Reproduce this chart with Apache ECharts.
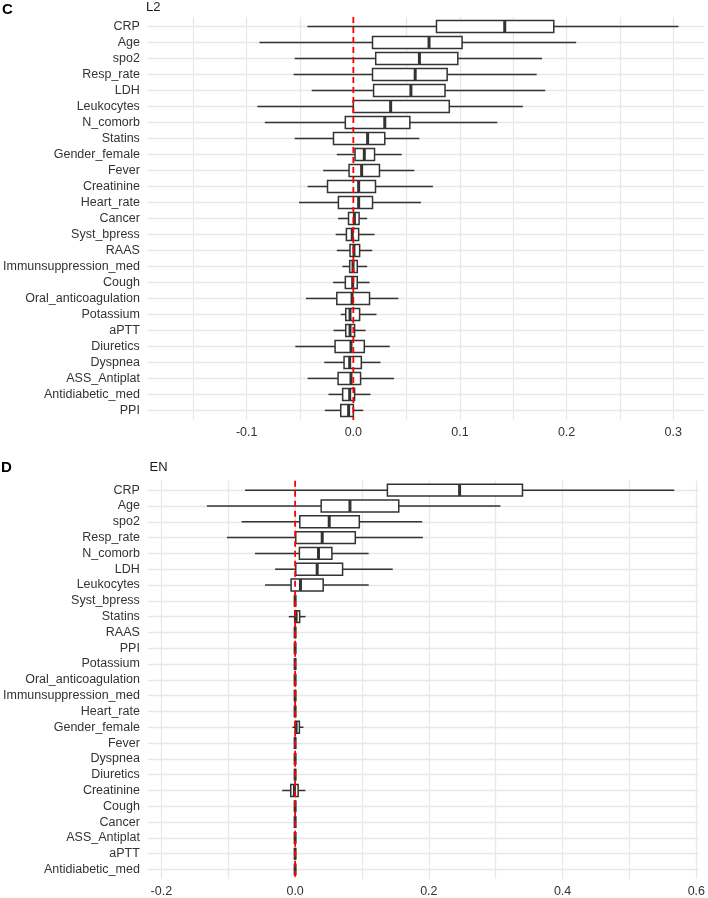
<!DOCTYPE html>
<html><head><meta charset="utf-8">
<script src="https://cdn.jsdelivr.net/npm/echarts@6/dist/echarts.min.js"></script>
<style>html,body{margin:0;padding:0;background:#fff}#c{width:708px;height:898px}</style>
</head><body><div id="c"></div>
<script>
// ---------- Panel C : L2 ----------
const catsL2 = ['CRP','Age','spo2','Resp_rate','LDH','Leukocytes','N_comorb','Statins','Gender_female','Fever','Creatinine','Heart_rate','Cancer','Syst_bpress','RAAS','Immunsuppression_med','Cough','Oral_anticoagulation','Potassium','aPTT','Diuretics','Dyspnea','ASS_Antiplat','Antidiabetic_med','PPI'];
const l2Min = [-0.043,-0.088,-0.055,-0.056,-0.039,-0.090,-0.083,-0.055,-0.0155,-0.0283,-0.0429,-0.051,-0.0143,-0.0165,-0.0155,-0.0103,-0.019,-0.0444,-0.0118,-0.0186,-0.0544,-0.0273,-0.0429,-0.0233,-0.0267];
const l2Q1  = [0.078,0.018,0.021,0.018,0.019,0.000,-0.0075,-0.0186,0.0016,-0.004,-0.0242,-0.014,-0.0045,-0.0065,-0.0031,-0.0034,-0.0075,-0.0155,-0.0071,-0.0071,-0.0171,-0.0087,-0.0143,-0.010,-0.0118];
const l2Med = [0.142,0.071,0.062,0.058,0.054,0.035,0.0295,0.0134,0.0103,0.0078,0.005,0.005,0.001,-0.001,0.0006,-0.0003,-0.0006,-0.0012,-0.0031,-0.0031,-0.0022,-0.0034,-0.0022,-0.0034,-0.0044];
const l2Q3  = [0.188,0.102,0.098,0.088,0.086,0.090,0.053,0.0295,0.0199,0.0245,0.0208,0.018,0.0054,0.005,0.0059,0.0037,0.0037,0.0152,0.0059,0.0012,0.0103,0.0075,0.0068,0.0012,0.0];
const l2Max = [0.305,0.209,0.177,0.172,0.180,0.159,0.135,0.062,0.0454,0.0572,0.0746,0.0634,0.013,0.0199,0.0177,0.013,0.0152,0.0422,0.0217,0.0115,0.0342,0.0255,0.0382,0.0161,0.0093];
const labelTicksL2 = [-0.1,0,0.1,0.2,0.3];
const gridTicksL2 = [-0.15,-0.1,-0.05,0,0.05,0.1,0.15,0.2,0.25,0.3];

// ---------- Panel D : EN ----------
const catsEN = ['CRP','Age','spo2','Resp_rate','N_comorb','LDH','Leukocytes','Syst_bpress','Statins','RAAS','PPI','Potassium','Oral_anticoagulation','Immunsuppression_med','Heart_rate','Gender_female','Fever','Dyspnea','Diuretics','Creatinine','Cough','Cancer','ASS_Antiplat','aPTT','Antidiabetic_med'];
const enMin = [-0.075,-0.132,-0.080,-0.102,-0.060,-0.030,-0.045,0,-0.0095,0,0,0,0,0,0,-0.004,0,0,0,-0.0193,0,0,0,0,0];
const enQ1  = [0.138,0.039,0.007,0.001,0.0064,0.001,-0.006,0,-0.0006,0,0,0,0,0,0,0.0005,0,0,0,-0.0065,0,0,0,0,0];
const enMed = [0.246,0.082,0.051,0.0405,0.035,0.033,0.008,0,0.0015,0,0,0,0,0,0,0.0015,0,0,0,-0.001,0,0,0,0,0];
const enQ3  = [0.340,0.155,0.096,0.090,0.055,0.071,0.042,0,0.0068,0,0,0,0,0,0,0.0064,0,0,0,0.0045,0,0,0,0,0];
const enMax = [0.567,0.307,0.190,0.191,0.110,0.146,0.110,0,0.0155,0,0,0,0,0,0,0.0125,0,0,0,0.0153,0,0,0,0,0];
const labelTicksEN = [-0.2,0,0.2,0.4,0.6];
const gridTicksEN = [-0.2,-0.1,0,0.1,0.2,0.3,0.4,0.5,0.6];

const FONT = '"Liberation Sans", Arial, Helvetica, sans-serif';
const TXT = '#333333';
const GRIDC = '#e8e8e8';

function rows(cats, mn, q1, md, q3, mx){
  return cats.map((c,i)=>[i, mn[i], q1[i], md[i], q3[i], mx[i]]);
}
function renderBox(params, api){
  const i = api.value(0);
  const pMin = api.coord([api.value(1), i]);
  const pQ1 = api.coord([api.value(2), i]);
  const pMed = api.coord([api.value(3), i]);
  const pQ3 = api.coord([api.value(4), i]);
  const pMax = api.coord([api.value(5), i]);
  const band = Math.abs(api.size([0, 1])[1]);
  const h = band * 0.75;
  const y = pMed[1];
  const stroke = '#333333';
  return {type:'group', children:[
    {type:'line', shape:{x1:pMin[0], y1:y, x2:pQ1[0], y2:y}, style:{stroke:stroke, lineWidth:1.5}},
    {type:'line', shape:{x1:pQ3[0], y1:y, x2:pMax[0], y2:y}, style:{stroke:stroke, lineWidth:1.5}},
    {type:'rect', shape:{x:pQ1[0], y:y-h/2, width:pQ3[0]-pQ1[0], height:h}, style:{fill:'#ffffff', stroke:stroke, lineWidth:1.5}},
    {type:'line', shape:{x1:pMed[0], y1:y-h/2, x2:pMed[0], y2:y+h/2}, style:{stroke:stroke, lineWidth:3}}
  ]};
}
function xAxis(gi, mn, mx, labels, grids){
  return {type:'value', gridIndex:gi, min:mn, max:mx,
    axisLine:{show:false}, axisTick:{show:false, customValues:grids},
    axisLabel:{customValues:labels, formatter:v=>Number(v).toFixed(1), fontSize:12.5, color:TXT, fontFamily:FONT, margin:6},
    splitLine:{show:true, lineStyle:{color:GRIDC, width:1.3}}};
}
function yAxis(gi, cats){
  const idx = cats.map((c,i)=>i);
  return {type:'value', gridIndex:gi, min:-0.6, max:cats.length-0.4, inverse:true,
    axisLine:{show:false}, axisTick:{show:false, customValues:idx},
    axisLabel:{customValues:idx, formatter:v=>cats[Math.round(v)], fontSize:12.5, color:TXT, fontFamily:FONT, margin:8},
    splitLine:{show:true, lineStyle:{color:GRIDC, width:1.3}}};
}
function zeroLine(gi, n){
  return {type:'line', xAxisIndex:gi, yAxisIndex:gi, data:[[0,-0.6],[0,n-0.4]], symbol:'none', silent:true, z:5,
    lineStyle:{color:'#ff0000', width:1.8, type:[6,4]}};
}

const chart = echarts.init(document.getElementById('c'), null, {renderer:'canvas'});
chart.setOption({
  animation:false,
  backgroundColor:'#ffffff',
  textStyle:{fontFamily:FONT},
  grid:[
    {left:145, right:4, top:17, height:403},
    {left:146.7, right:6, top:480.7, height:399.3}
  ],
  xAxis:[xAxis(0,-0.1927,0.3289,labelTicksL2,gridTicksL2), xAxis(1,-0.2202,0.604,labelTicksEN,gridTicksEN)],
  yAxis:[yAxis(0,catsL2), yAxis(1,catsEN)],
  graphic:[
    {type:'text', x:2, y:9.5, style:{text:'C', fill:'#000', font:'bold 15px '+FONT, verticalAlign:'middle'}},
    {type:'text', x:146, y:7.5, style:{text:'L2', fill:'#1a1a1a', font:'13px '+FONT, verticalAlign:'middle'}},
    {type:'text', x:1, y:468, style:{text:'D', fill:'#000', font:'bold 15px '+FONT, verticalAlign:'middle'}},
    {type:'text', x:149.5, y:467.7, style:{text:'EN', fill:'#1a1a1a', font:'13px '+FONT, verticalAlign:'middle'}}
  ],
  series:[
    {type:'custom', xAxisIndex:0, yAxisIndex:0, renderItem:renderBox, data:rows(catsL2,l2Min,l2Q1,l2Med,l2Q3,l2Max),
      encode:{x:[1,2,3,4,5], y:0}, z:2, silent:true},
    zeroLine(0, catsL2.length),
    {type:'custom', xAxisIndex:1, yAxisIndex:1, renderItem:renderBox, data:rows(catsEN,enMin,enQ1,enMed,enQ3,enMax),
      encode:{x:[1,2,3,4,5], y:0}, z:2, silent:true},
    zeroLine(1, catsEN.length)
  ]
});
</script>
</body></html>
